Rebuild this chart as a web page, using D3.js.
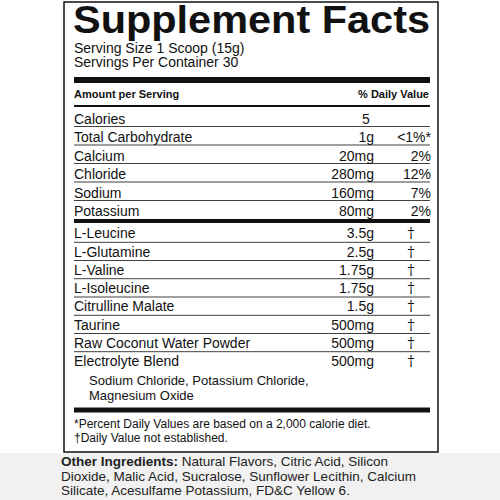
<!DOCTYPE html><html><head><meta charset="utf-8"><script src="https://cdn.jsdelivr.net/npm/d3@7"></script>
<style>body{margin:0;background:#fff}</style></head><body><script>
const nutrients=["Calories","Total Carbohydrate","Calcium","Chloride","Sodium","Potassium"];
const nutrientAmounts=["5","1g","20mg","280mg","160mg","80mg"];
const nutrientDV=["","<1%*","2%","12%","7%","2%"];
const ingredients=["L-Leucine","L-Glutamine","L-Valine","L-Isoleucine","Citrulline Malate","Taurine","Raw Coconut Water Powder","Electrolyte Blend"];
const ingredientAmounts=["3.5g","2.5g","1.75g","1.75g","1.5g","500mg","500mg","500mg"];
const blendParts=["Sodium Chloride, Potassium Chloride,","Magnesium Oxide"];
const otherLines=[["Other Ingredients:"," Natural Flavors, Citric Acid, Silicon"],["","Dioxide, Malic Acid, Sucralose, Sunflower Lecithin, Calcium"],["","Silicate, Acesulfame Potassium, FD&C Yellow 6."]];
const svg=d3.select("body").append("svg").attr("width",500).attr("height",500);
const F="Liberation Sans, Arial, sans-serif";
const L=64,R=438;
svg.append("rect").attr("x",0).attr("y",453).attr("width",500).attr("height",47).attr("fill","#f1f1f1");
svg.append("rect").attr("x",L).attr("y",2).attr("width",R-L).attr("height",450).attr("fill","#fff").attr("stroke","#111").attr("stroke-width",1.5);
const t=(x,y,s,sz,o={})=>svg.append("text").attr("x",x).attr("y",y).text(s).attr("font-family",o.f||F).attr("font-size",sz).attr("font-weight",o.w||"normal").attr("text-anchor",o.a||"start").attr("fill","#111");
const hl=(y,w,x1=L+10,x2=R-8)=>svg.append("rect").attr("x",x1).attr("y",y-w/2).attr("width",x2-x1).attr("height",w).attr("fill","#111");
t(73,33,"Supplement Facts",38,{w:"bold"}).attr("textLength",357).attr("lengthAdjust","spacingAndGlyphs");
t(74,53,"Serving Size 1 Scoop (15g)",14);
t(74,67,"Servings Per Container 30",14);
hl(80,6);
t(74,98,"Amount per Serving",11,{w:"bold"});
t(429,98,"% Daily Value",11,{w:"bold",a:"end"});
hl(106,2);
const y1=d3.scaleBand().domain(nutrients).range([108,219]);
nutrients.forEach((n,i)=>{const y=y1(n)+y1.bandwidth()-3;
 t(74,y,n,14);
 if(i==0) t(366,y,nutrientAmounts[i],14,{a:"middle"}); else t(374,y,nutrientAmounts[i],14,{a:"end"});
 t(431,y,nutrientDV[i],14,{a:"end"});
 if(i>0) hl(y1(n),0.8);});
hl(221,4);
const y2=d3.scaleBand().domain(ingredients).range([224,370]);
ingredients.forEach((n,i)=>{const y=y2(n)+y2.bandwidth()-4;
 t(74,y,n,14);t(374,y,ingredientAmounts[i],14,{a:"end"});t(411,y,"\u2020",14,{a:"middle",f:"DejaVu Serif, serif"});
 if(i>0) hl(y2(n),0.8);});
blendParts.forEach((s,i)=>t(89,385+i*15,s,13));
hl(410,5);
t(74,428,"*Percent Daily Values are based on a 2,000 calorie diet.",12);
t(74,442,"\u2020Daily Value not established.",12);
otherLines.forEach((l,i)=>{const tx=svg.append("text").attr("x",61).attr("y",466+i*14.5).attr("font-family",F).attr("font-size",13.5).attr("fill","#222");
 tx.append("tspan").attr("font-weight","bold").text(l[0]);tx.append("tspan").text(l[1]);});
</script></body></html>
